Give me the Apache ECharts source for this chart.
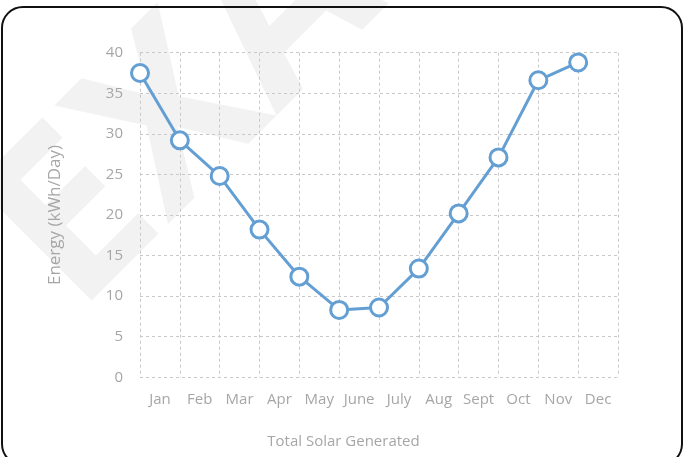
<!DOCTYPE html>
<html>
<head>
<meta charset="utf-8">
<script src="https://cdn.jsdelivr.net/npm/echarts@6/dist/echarts.min.js"></script>
<style>
  html, body { margin: 0; padding: 0; background: #fff; }
  #frame {
    position: absolute; left: 1px; top: 6px; width: 682px; height: 460px;
    border: 2px solid #111; border-radius: 22px; box-sizing: border-box;
    z-index: 2; pointer-events: none;
  }
  #chart { position: absolute; left: 0; top: 0; width: 687px; height: 457px; z-index: 1; }
</style>
</head>
<body>
<div id="frame"></div>
<div id="chart"></div>
<script>
const months = ['Jan', 'Feb', 'Mar', 'Apr', 'May', 'June', 'July', 'Aug', 'Sept', 'Oct', 'Nov', 'Dec'];
const energy = [37.5, 29.2, 24.8, 18.2, 12.4, 8.3, 8.6, 13.4, 20.2, 27.1, 36.6, 38.8];
const yTicks = { min: 0, max: 40, interval: 5 };

const gray = '#a6a6a6';
const lineColor = '#649fd4';

const chart = echarts.init(document.getElementById('chart'));

chart.setOption({
  animation: false,
  textStyle: { fontFamily: 'Open Sans' },
  graphic: [{
    // faint watermark behind the plot
    type: 'text',
    x: 112,
    y: 350,
    z: -10,
    rotation: Math.PI / 4,
    silent: true,
    style: {
      text: 'EXAMPLE',
      font: 'bold 230px "Open Sans"',
      fill: '#f2f2f2',
      verticalAlign: 'bottom'
    }
  }, {
    type: 'text',
    left: 'center',
    top: 434,
    style: {
      text: 'Total Solar Generated',
      font: '15px "Open Sans"',
      fill: gray
    }
  }],
  grid: { left: 140, right: 69, top: 52.7, bottom: 79.7 },
  xAxis: [{
    type: 'category',
    data: months,
    boundaryGap: true,
    axisLine: { show: false },
    axisTick: { show: false },
    axisLabel: { color: gray, fontSize: 15, margin: 15, interval: 0 },
    splitLine: { show: true, lineStyle: { color: '#c8c8c8', type: [3, 3], width: 1 } }
  }, {
    type: 'category',
    data: months.concat(['']),
    boundaryGap: false,
    show: false
  }],
  yAxis: {
    type: 'value',
    min: yTicks.min,
    max: yTicks.max,
    interval: yTicks.interval,
    name: 'Energy (kWh/Day)',
    nameLocation: 'middle',
    nameGap: 76,
    nameTextStyle: { color: gray, fontSize: 17 },
    axisLine: { show: false },
    axisTick: { show: false },
    axisLabel: { color: gray, fontSize: 15, margin: 17 },
    splitLine: { show: true, lineStyle: { color: '#c8c8c8', type: [3, 3], width: 1 } }
  },
  series: [{
    type: 'line',
    xAxisIndex: 1,
    data: energy,
    symbol: 'circle',
    symbolSize: 17,
    lineStyle: { color: lineColor, width: 3 },
    itemStyle: { color: '#fff', borderColor: lineColor, borderWidth: 3 }
  }]
});
</script>
</body>
</html>
